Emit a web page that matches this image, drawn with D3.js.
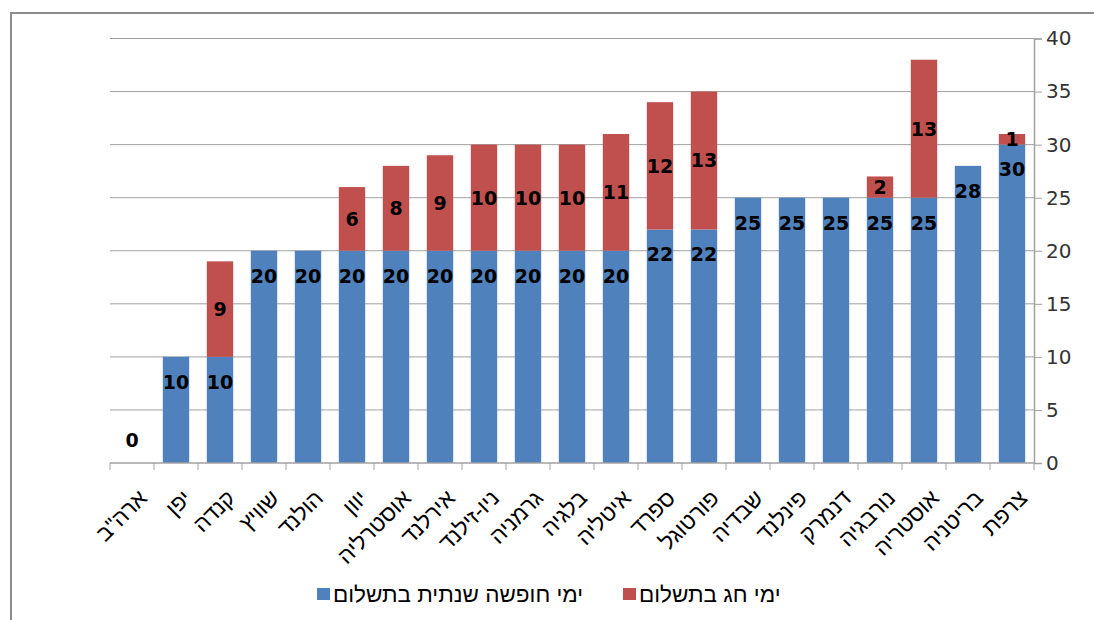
<!DOCTYPE html>
<html>
<head>
<meta charset="utf-8">
<script src="https://cdn.jsdelivr.net/npm/d3@7"></script>
<style>
  body { margin: 0; background: #fff; }
  svg { display: block; }
</style>
</head>
<body>
<div id="chart"></div>
<script>
// countries, left to right
const countries = ["ארה\"ב", "יפן", "קנדה", "שוויץ", "הולנד", "יוון", "אוסטרליה", "אירלנד", "ניו-זילנד", "גרמניה", "בלגיה",
  "איטליה", "ספרד", "פורטוגל", "שבדיה", "פינלנד", "דנמרק", "נורבגיה", "אוסטריה", "בריטניה", "צרפת"];
// paid annual vacation days
const vacationDays = [0, 10, 10, 20, 20, 20, 20, 20, 20, 20, 20, 20, 22, 22, 25, 25, 25, 25, 25, 28, 30];
// paid holidays
const holidayDays = [0, 0, 9, 0, 0, 6, 8, 9, 10, 10, 10, 11, 12, 13, 0, 0, 0, 2, 13, 0, 1];
const yTicks = [0, 5, 10, 15, 20, 25, 30, 35, 40];
const seriesNames = ["ימי חופשה שנתית בתשלום", "ימי חג בתשלום"];
const colors = ["#4F81BD", "#C0504D"];

const W = 1094, H = 620;
const plot = { left: 110, right: 1034, top: 38.5, bottom: 463 };

const svg = d3.select("#chart").append("svg")
  .attr("width", W)
  .attr("height", H);

// outer frame (only top and left edges are visible)
svg.append("rect")
  .attr("x", 11).attr("y", 13)
  .attr("width", W + 20).attr("height", H + 20)
  .attr("fill", "none")
  .attr("stroke", "#8c8c8c")
  .attr("stroke-width", 2);

const x = d3.scaleBand()
  .domain(countries)
  .range([plot.left, plot.right])
  .paddingInner(0.4)
  .paddingOuter(0.2);

const y = d3.scaleLinear()
  .domain([0, 40])
  .range([plot.bottom, plot.top]);

// gridlines
svg.append("g")
  .selectAll("line")
  .data(yTicks.filter(d => d > 0))
  .join("line")
  .attr("x1", plot.left).attr("x2", plot.right)
  .attr("y1", d => y(d)).attr("y2", d => y(d))
  .attr("stroke", "#a0a0a0")
  .attr("stroke-width", 1);

// right y axis
const yAxis = svg.append("g")
  .attr("transform", `translate(${plot.right},0)`)
  .call(d3.axisRight(y).tickValues(yTicks).tickSize(8).tickPadding(4));
yAxis.select(".domain").attr("stroke", "#a0a0a0").attr("stroke-width", 1.5);
yAxis.selectAll(".tick line").attr("stroke", "#a0a0a0");
yAxis.selectAll(".tick text")
  .attr("font-family", "DejaVu Sans, Verdana, sans-serif")
  .attr("font-size", 20)
  .attr("fill", "#333");

// stacked bars
const rows = countries.map((c, i) => ({ country: c, vac: vacationDays[i], hol: holidayDays[i] }));
const stack = d3.stack().keys(["vac", "hol"])(rows);

svg.append("g")
  .selectAll("g")
  .data(stack)
  .join("g")
  .attr("fill", (d, i) => colors[i])
  .selectAll("rect")
  .data(d => d)
  .join("rect")
  .attr("x", d => x(d.data.country))
  .attr("width", x.bandwidth())
  .attr("y", d => y(d[1]))
  .attr("height", d => y(d[0]) - y(d[1]));

// bottom category axis with ticks at band boundaries
const step = x.step();
const xg = svg.append("g");
xg.append("line")
  .attr("x1", plot.left).attr("x2", plot.right)
  .attr("y1", plot.bottom).attr("y2", plot.bottom)
  .attr("stroke", "#a0a0a0").attr("stroke-width", 1.5);
xg.selectAll("line.tick")
  .data(d3.range(countries.length + 1))
  .join("line")
  .attr("class", "tick")
  .attr("x1", i => plot.left + i * step).attr("x2", i => plot.left + i * step)
  .attr("y1", plot.bottom).attr("y2", plot.bottom + 7)
  .attr("stroke", "#a0a0a0");

xg.selectAll("text")
  .data(countries)
  .join("text")
  .attr("transform", d => `translate(${x(d) + x.bandwidth() / 2 + 11},494) rotate(-45)`)
  .attr("text-anchor", "end")
  .attr("dy", "0.35em")
  .attr("font-family", "Liberation Sans, Arial, sans-serif")
  .attr("font-size", 22.5)
  .attr("fill", "#000")
  .text(d => d);

// value labels
const labelFont = "DejaVu Sans, Verdana, sans-serif";
svg.append("g")
  .selectAll("text")
  .data(rows)
  .join("text")
  .attr("x", d => x(d.country) + x.bandwidth() / 2)
  .attr("y", d => d.vac > 0 ? y(d.vac) + 25 : y(0) - 23)
  .attr("text-anchor", "middle")
  .attr("dy", "0.36em")
  .attr("font-family", labelFont)
  .attr("font-weight", "bold")
  .attr("font-size", 19)
  .attr("fill", "#000")
  .text(d => d.vac);

svg.append("g")
  .selectAll("text")
  .data(rows.filter(d => d.hol > 0))
  .join("text")
  .attr("x", d => x(d.country) + x.bandwidth() / 2)
  .attr("y", d => y(d.vac + d.hol / 2))
  .attr("text-anchor", "middle")
  .attr("dy", "0.36em")
  .attr("font-family", labelFont)
  .attr("font-weight", "bold")
  .attr("font-size", 19)
  .attr("fill", "#000")
  .text(d => d.hol);

// legend
const legendX = [317, 623];
const legend = svg.append("g")
  .selectAll("g")
  .data(seriesNames)
  .join("g")
  .attr("transform", (d, i) => `translate(${legendX[i]},588)`);
legend.append("rect")
  .attr("width", 13).attr("height", 12)
  .attr("fill", (d, i) => colors[i]);
legend.append("text")
  .attr("x", 16).attr("y", 6)
  .attr("dy", "0.35em")
  .attr("font-family", "Liberation Sans, Arial, sans-serif")
  .attr("font-size", 22.5)
  .attr("fill", "#000")
  .text(d => d);
</script>
</body>
</html>
